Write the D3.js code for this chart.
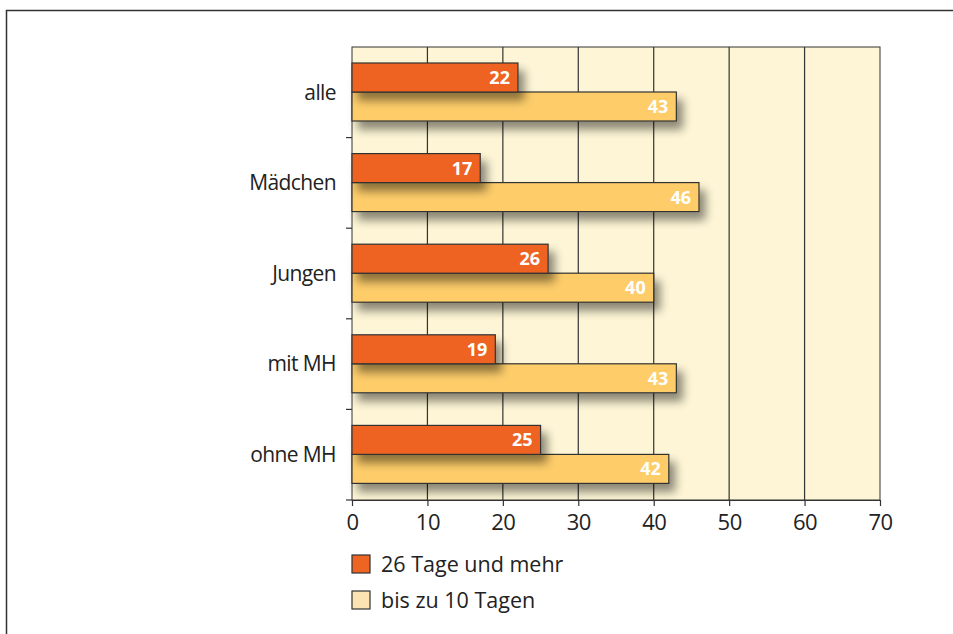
<!DOCTYPE html>
<html>
<head>
<meta charset="utf-8">
<script src="https://cdn.jsdelivr.net/npm/d3@7"></script>
<style>
  body { margin: 0; background: #fff; }
  svg { display: block; font-family: "Open Sans", sans-serif; }
</style>
</head>
<body>
<svg id="chart" width="953" height="634"></svg>
<script>
// data
var categories = ["alle", "Mädchen", "Jungen", "mit MH", "ohne MH"];
var seriesNames = ["26 Tage und mehr", "bis zu 10 Tagen"];
var values26 = [22, 17, 26, 19, 25];
var values10 = [43, 46, 40, 43, 42];
var xTicks = [0, 10, 20, 30, 40, 50, 60, 70];

var colours = ["#ee6423", "#fecd6a"];
var legendColours = ["#ee6423", "#fbe3b2"];

var svg = d3.select("#chart"),
    margin = {top: 47, right: 73, bottom: 134, left: 352},
    width = +svg.attr("width") - margin.left - margin.right,
    height = +svg.attr("height") - margin.top - margin.bottom;

// outer frame
svg.append("path")
    .attr("d", "M6.5,634 V10.5 H953")
    .attr("fill", "none")
    .attr("stroke", "#333")
    .attr("stroke-width", 1.5);

var defs = svg.append("defs");
var shadow = defs.append("filter").attr("id", "shadow")
    .attr("x", "-10%").attr("y", "-30%").attr("width", "130%").attr("height", "200%");
shadow.append("feGaussianBlur").attr("in", "SourceAlpha").attr("stdDeviation", 5);
shadow.append("feOffset").attr("dx", 6).attr("dy", 8).attr("result", "off");
shadow.append("feComponentTransfer").append("feFuncA").attr("type", "linear").attr("slope", 0.45);
var merge = shadow.append("feMerge");
merge.append("feMergeNode");
merge.append("feMergeNode").attr("in", "SourceGraphic");

var g = svg.append("g").attr("transform", "translate(" + margin.left + "," + margin.top + ")");

var x = d3.scaleLinear().domain([0, 70]).range([0, width]);
var y = d3.scaleBand().domain(categories).range([0, height]);

// plot background
g.append("rect")
    .attr("width", width)
    .attr("height", height)
    .attr("fill", "#fdf5d5")
    .attr("stroke", "#333")
    .attr("stroke-width", 1);

// vertical grid lines
g.selectAll(".grid")
    .data(xTicks.slice(1, -1))
    .enter().append("line")
    .attr("x1", function(d){ return x(d); })
    .attr("x2", function(d){ return x(d); })
    .attr("y1", 0)
    .attr("y2", height)
    .attr("stroke", "#333")
    .attr("stroke-width", 1.2);

var barH = 29, offset = 16;

var rows = g.selectAll(".row")
    .data(categories)
    .enter().append("g")
    .attr("transform", function(d){ return "translate(0," + y(d) + ")"; });

// yellow bars first then orange (shadow overlaps properly)
rows.append("rect")
    .attr("x", 0)
    .attr("y", offset + barH)
    .attr("width", function(d, i){ return x(values10[i]); })
    .attr("height", barH)
    .attr("fill", colours[1])
    .attr("stroke", "#333")
    .attr("stroke-width", 1.2)
    .attr("filter", "url(#shadow)");

rows.append("rect")
    .attr("x", 0)
    .attr("y", offset)
    .attr("width", function(d, i){ return x(values26[i]); })
    .attr("height", barH)
    .attr("fill", colours[0])
    .attr("stroke", "#333")
    .attr("stroke-width", 1.2)
    .attr("filter", "url(#shadow)");

rows.append("text")
    .attr("x", function(d, i){ return x(values26[i]) - 8; })
    .attr("y", offset + barH / 2)
    .attr("dy", "0.36em")
    .attr("text-anchor", "end")
    .attr("fill", "#fff")
    .attr("font-weight", "bold")
    .attr("font-size", 18)
    .text(function(d, i){ return values26[i]; });

rows.append("text")
    .attr("x", function(d, i){ return x(values10[i]) - 8; })
    .attr("y", offset + barH * 1.5)
    .attr("dy", "0.36em")
    .attr("text-anchor", "end")
    .attr("fill", "#fff")
    .attr("font-weight", "bold")
    .attr("font-size", 18)
    .text(function(d, i){ return values10[i]; });

// category labels
rows.append("text")
    .attr("x", -16)
    .attr("y", offset + barH)
    .attr("dy", "0.36em")
    .attr("text-anchor", "end")
    .attr("fill", "#222")
    .attr("font-size", 21)
    .attr("letter-spacing", -0.6)
    .text(function(d){ return d; });

// y ticks on left at band boundaries
g.selectAll(".ytick")
    .data(categories)
    .enter().append("line")
    .attr("x1", -6)
    .attr("x2", 0)
    .attr("y1", function(d){ return y(d) + y.bandwidth(); })
    .attr("y2", function(d){ return y(d) + y.bandwidth(); })
    .attr("stroke", "#333")
    .attr("stroke-width", 1.2);

// x axis
var xAxis = g.append("g")
    .attr("transform", "translate(0," + height + ")")
    .call(d3.axisBottom(x).tickValues(xTicks).tickSize(6).tickSizeOuter(0).tickPadding(8));
xAxis.select(".domain").attr("stroke", "#333").attr("stroke-width", 1.2);
xAxis.selectAll(".tick line").attr("stroke", "#333").attr("stroke-width", 1.2);
xAxis.selectAll("text")
    .attr("font-family", "Open Sans, sans-serif")
    .attr("font-size", 22)
    .attr("letter-spacing", -0.5)
    .attr("fill", "#222");

// legend
var legend = svg.append("g").attr("transform", "translate(352,555)");
var items = legend.selectAll(".item")
    .data(seriesNames)
    .enter().append("g")
    .attr("transform", function(d, i){ return "translate(0," + (i * 36) + ")"; });
items.append("rect")
    .attr("width", 18)
    .attr("height", 18)
    .attr("fill", function(d, i){ return legendColours[i]; })
    .attr("stroke", "#333")
    .attr("stroke-width", 1.2);
items.append("text")
    .attr("x", 29)
    .attr("y", 9)
    .attr("dy", "0.36em")
    .attr("font-size", 21.5)
    .attr("fill", "#222")
    .text(function(d){ return d; });
</script>
</body>
</html>
